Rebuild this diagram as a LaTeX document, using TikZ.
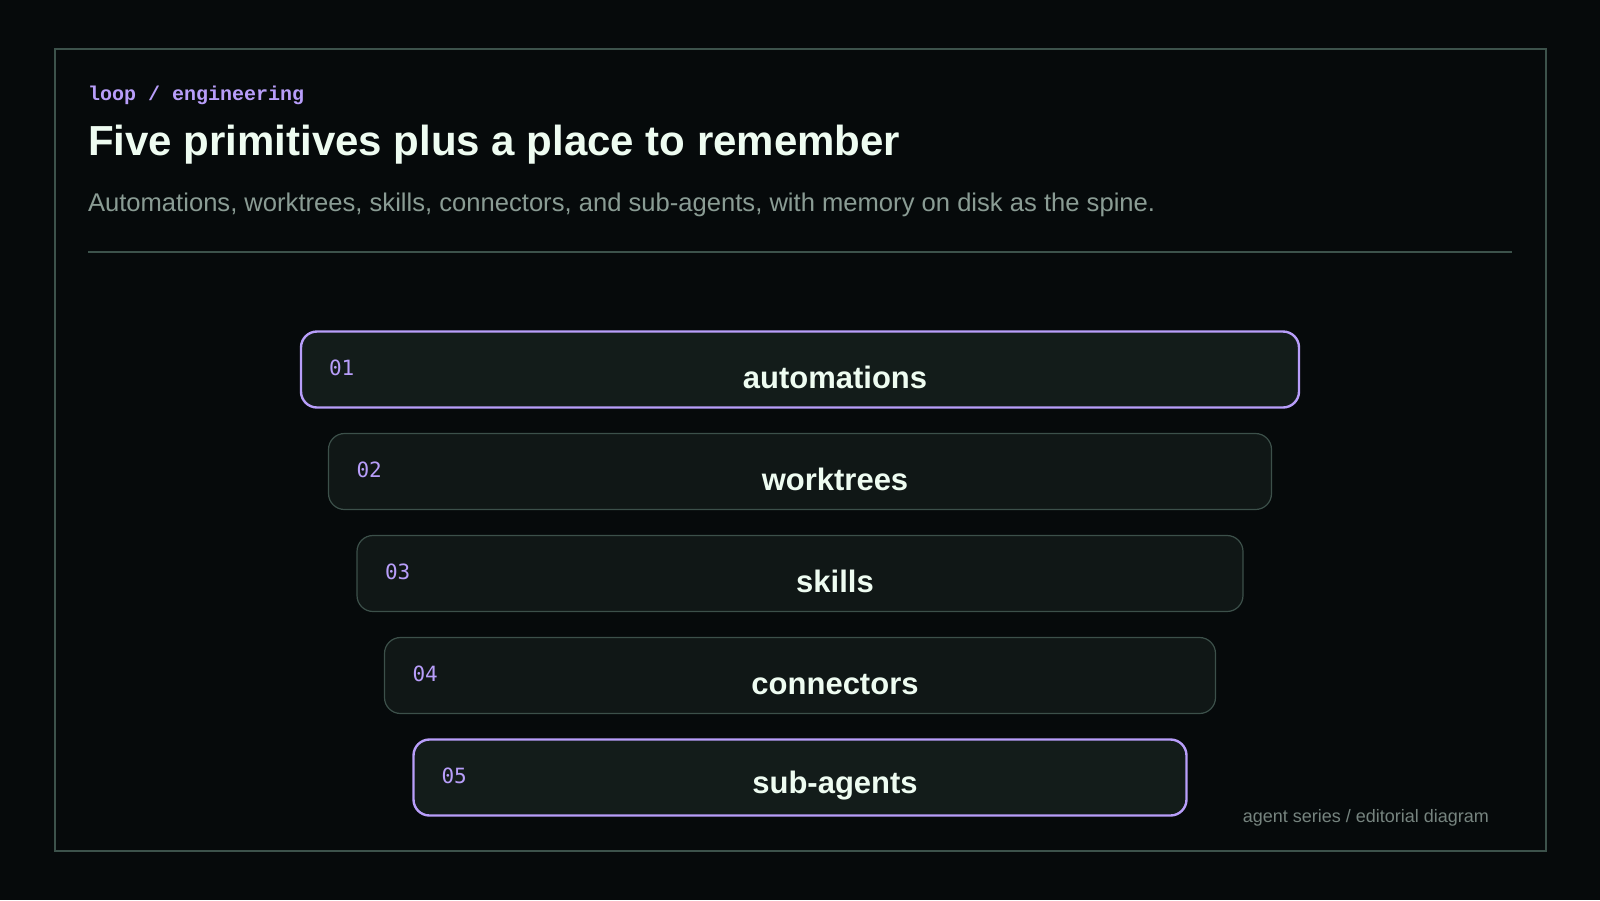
\documentclass[tikz,border=0pt]{standalone}
\usepackage{fontspec}
\setmainfont{Liberation Sans}
\newfontfamily\tagfont{Liberation Mono}
\newfontfamily\numfont{DejaVu Sans Mono}
\usetikzlibrary{positioning}

\definecolor{bg}{HTML}{060A0B}
\definecolor{frame}{HTML}{3C524B}
\definecolor{boxfill}{HTML}{101716}
\definecolor{hotfill}{HTML}{131C1A}
\definecolor{boxline}{HTML}{3C504A}
\definecolor{accent}{HTML}{B89EFA}
\definecolor{ink}{HTML}{EEFCF1}
\definecolor{muted}{HTML}{8A9C94}
\definecolor{faint}{HTML}{76847F}

\begin{document}
\begin{tikzpicture}[x=0.5pt,y=-0.5pt,node distance=13pt,
                    every node/.style={inner sep=0pt,outer sep=0pt}]
  \tikzstyle{layer}=[draw=boxline,fill=boxfill,line width=0.6pt,rounded corners=8pt,minimum height=38pt]
  \tikzstyle{hot layer}=[layer,draw=accent,fill=hotfill,line width=1.2pt]
  \tikzstyle{num}=[text=accent,font=\numfont\fontsize{10.5}{12}\selectfont,anchor=base west]
  \tikzstyle{primitive}=[text=ink,font=\bfseries\fontsize{15.5}{18}\selectfont,anchor=base]

  \fill[bg] (0,0) rectangle (1600,900);
  \useasboundingbox (0,0) rectangle (1600,900);
  \draw[frame,line width=0.8pt] (55,49) rectangle (1546,851);

  % header
  \node[anchor=base west,text=accent,font=\tagfont\bfseries\fontsize{10}{12}\selectfont] (tag) at (88,100) {loop / engineering};
  \node[anchor=base west,text=ink,font=\bfseries\fontsize{21}{25}\selectfont] (title) at (88,155) {Five primitives plus a place to remember};
  \node[anchor=base west,text=muted,font=\fontsize{12.8}{15}\selectfont] (sub) at (88,211) {Automations, worktrees, skills, connectors, and sub-agents, with memory on disk as the spine.};
  \coordinate (ruleL) at (88,252);
  \coordinate (ruleR) at (1512,252);
  \draw[frame,line width=0.6pt] (ruleL) -- (ruleR);

  % the five layers
  \node[hot layer][minimum width=499pt] (L1) at (800,369.5) {};
  \node[layer][minimum width=471.5pt] (L2) [below=of L1] {};
  \node[layer][minimum width=443pt]   (L3) [below=of L2] {};
  \node[layer][minimum width=415.5pt] (L4) [below=of L3] {};
  \node[hot layer][minimum width=386.5pt] (L5) [below=of L4] {};

  \node[num] (n1) at ([xshift=14pt,yshift=-3pt]L1.west) {01};
  \node[num] (n2) at ([xshift=14pt,yshift=-3pt]L2.west) {02};
  \node[num] (n3) at ([xshift=14pt,yshift=-3pt]L3.west) {03};
  \node[num] (n4) at ([xshift=14pt,yshift=-3pt]L4.west) {04};
  \node[num] (n5) at ([xshift=14pt,yshift=-3pt]L5.west) {05};

  \node[primitive] (t1) at ([xshift=17.5pt,yshift=-9.5pt]L1.center) {automations};
  \node[primitive] (t2) at ([xshift=17.5pt,yshift=-9.5pt]L2.center) {worktrees};
  \node[primitive] (t3) at ([xshift=17.5pt,yshift=-9.5pt]L3.center) {skills};
  \node[primitive] (t4) at ([xshift=17.5pt,yshift=-9.5pt]L4.center) {connectors};
  \node[primitive] (t5) at ([xshift=17.5pt,yshift=-8pt]L5.center) {sub-agents};

  % footer
  \node[anchor=base east,text=faint,font=\fontsize{9}{11}\selectfont] (foot) at (1489,822.5) {agent series / editorial diagram};
\end{tikzpicture}
\end{document}
